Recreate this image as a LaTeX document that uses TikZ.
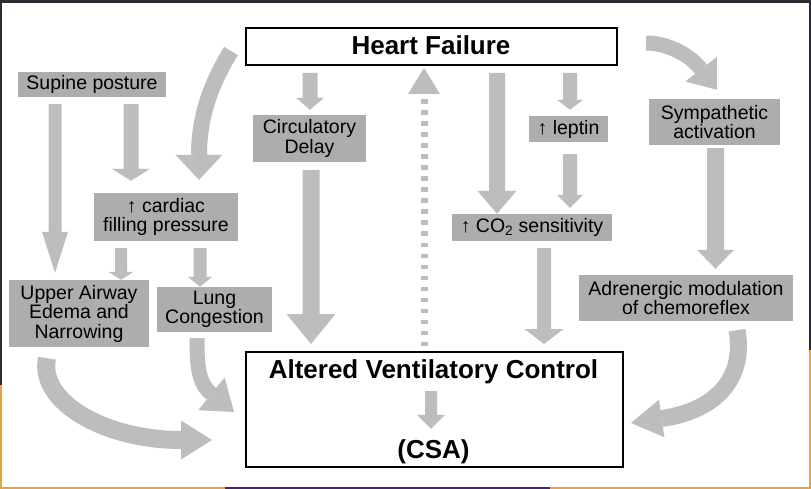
\documentclass[tikz,border=0pt]{standalone}
\usepackage{fontspec}
\setmainfont{Liberation Sans}
\usetikzlibrary{calc}
\definecolor{arrowgray}{HTML}{BDBDBD}
\definecolor{boxgray}{HTML}{ADADAD}
\definecolor{framedark}{HTML}{2B2B33}
\definecolor{frameorange}{HTML}{E9A244}
\definecolor{framepurple}{HTML}{4B2470}
\tikzset{
  gbox/.style={fill=boxgray, inner sep=0pt, align=center, font=\fontsize{19.5}{19.5}\selectfont},
  wbox/.style={draw=black, line width=2pt, fill=white, inner sep=0pt},
  btext/.style={font=\fontsize{26}{26}\selectfont\bfseries, inner sep=0pt},
}
% straight vertical block arrow: start, tip, shaft width, head width, head length
\newcommand{\varrow}[5]{%
  \fill[arrowgray] let \p1=#1, \p2=#2 in
    (\x1-#3/2,\y1) -- (\x1-#3/2,\y2+#5) -- (\x1-#4/2,\y2+#5) -- (\x1,\y2)
    -- (\x1+#4/2,\y2+#5) -- (\x1+#3/2,\y2+#5) -- (\x1+#3/2,\y1) -- cycle;}
% curved block arrow: tail, c1, c2, tip, shaft width, head half width, head length
\newcommand{\carrow}[7]{%
  \path ($(#4)!#7!(#3)$) coordinate (hb);
  \draw[arrowgray, line width=#5] (#1) .. controls (#2) and (#3) .. (hb);
  \fill[arrowgray] (#4) -- ($(hb)!#6!90:(#4)$) -- ($(hb)!#6!-90:(#4)$) -- cycle;}
\begin{document}
\begin{tikzpicture}[x=1pt,y=-1pt]
\useasboundingbox (0,0) rectangle (811,489);
% frame
\fill[framedark] (0,0) rectangle (811,489);
\fill[frameorange] (0,385) rectangle (2,489);
\fill[frameorange] (809,350) rectangle (811,489);
\fill[frameorange] (0,487) rectangle (811,489);
\fill[framepurple] (225,487) rectangle (550,489);
\fill[white] (2,3) rectangle (809,487);

% nodes
\node[wbox, minimum width=371pt, minimum height=37pt] (HF) at (431.5,46.5) {};
\node[btext, anchor=base] (hftext) at (431,55) {Heart Failure};
\node[wbox, minimum width=377pt, minimum height=115pt] (alt) at (434.5,409.5) {};
\node[btext, anchor=base] (avc) at (433.5,378) {Altered Ventilatory Control};
\node[btext, anchor=base] (csa) at (433.5,458) {(CSA)};

\node[gbox, minimum width=148pt, minimum height=25pt] (supine) at (92,84.5) {Supine posture};
\node[gbox, minimum width=113pt, minimum height=47pt] (circ) at (309.5,138.5) {Circulatory\\Delay};
\node[gbox, minimum width=79pt, minimum height=26pt] (leptin) at (568.5,129) {↑ leptin};
\node[gbox, minimum width=131pt, minimum height=46pt] (symp) at (714.5,122) {Sympathetic\\activation};
\node[gbox, minimum width=144pt, minimum height=48pt] (cardiac) at (166,217) {↑ cardiac\\filling pressure};
\node[gbox, minimum width=160pt, minimum height=27pt] (co2) at (532,227.5) {↑ CO\textsubscript{2} sensitivity};
\node[gbox, minimum width=140pt, minimum height=67pt] (upper) at (79,313.5) {Upper Airway\\Edema and\\Narrowing};
\node[gbox, minimum width=115pt, minimum height=45pt] (lung) at (214.5,309.5) {Lung\\Congestion};
\node[gbox, minimum width=214pt, minimum height=46pt] (adr) at (686,298) {Adrenergic modulation\\of chemoreflex};

% straight arrows
\varrow{($(HF.south)+(-121.5,7)$)}{($(circ.north)+(0,-5)$)}{15pt}{28pt}{12pt}
\varrow{($(circ.south)+(1.5,8)$)}{($(alt.north)+(0,-7)$)}{17pt}{49pt}{30pt}
\varrow{($(supine.south)+(-37,7)$)}{($(upper.north)+(0,-7)$)}{13pt}{26pt}{41pt}
\varrow{($(supine.south)+(39,7)$)}{($(cardiac.north)+(0,-12)$)}{15pt}{38pt}{12pt}
\varrow{($(cardiac.south)+(-45,7)$)}{(upper.north)}{12pt}{25pt}{8pt}
\varrow{($(cardiac.south)+(34,7)$)}{(lung.north)}{13pt}{24pt}{10pt}
\varrow{($(HF.south)+(65.5,7)$)}{(co2.north)}{16pt}{39pt}{23pt}
\varrow{($(HF.south)+(138.5,7)$)}{($(leptin.north)+(0,-6)$)}{14pt}{26pt}{10pt}
\varrow{($(leptin.south)+(1.5,12)$)}{($(co2.north)+(0,-6)$)}{14pt}{26pt}{13pt}
\varrow{($(symp.south)+(1,3)$)}{($(adr.north)+(0,-6)$)}{17pt}{37pt}{19pt}
\varrow{($(co2.south)+(12,7)$)}{($(alt.north)+(0,-7)$)}{14pt}{39pt}{15pt}
\varrow{($(avc.base)+(-2.5,13)$)}{($(csa.north)+(0,-10)$)}{12pt}{28pt}{14pt}

% dashed feedback arrow
\coordinate (ds) at ($(alt.north)+(-10.5,-5)$);
\coordinate (dt) at ($(HF.south)+(-7.5,2)$);
\draw[arrowgray, line width=7pt, dash pattern=on 4.5pt off 6.5pt]
  let \p1=(ds), \p2=(dt) in (\x1,\y1) -- (\x1,\y2-30pt);
\fill[arrowgray] let \p1=(ds), \p2=(dt) in
  (\x1,\y2) -- (\x1-16pt,\y2-26pt) -- (\x1+16pt,\y2-26pt) -- cycle;

% curved arrows
\coordinate (t1) at ($(HF.west)+(-14,4.5)$);
\coordinate (e1) at ($(cardiac.north)+(33,-13)$);
\coordinate (c1a) at (212,82);
\coordinate (c1b) at (199,115);
\carrow{t1}{c1a}{c1b}{e1}{16pt}{23.5pt}{25pt}

\coordinate (t2) at ($(HF.east)+(28,-3.5)$);
\coordinate (e2) at ($(symp.north)+(2.5,-9)$);
\coordinate (c2a) at (668,43);
\coordinate (c2b) at (690,55);
\carrow{t2}{c2a}{c2b}{e2}{15pt}{20pt}{26pt}

\coordinate (t3) at ($(upper.south)+(-32,11)$);
\coordinate (e3) at ($(alt.west)+(-33,30.5)$);
\coordinate (c3a) at (38,402);
\coordinate (c3b) at (105,440);
\carrow{t3}{c3a}{c3b}{e3}{18pt}{19.5pt}{31pt}

\coordinate (t4) at ($(lung.south)+(-17.5,6)$);
\coordinate (e4) at ($(alt.west)+(-11,2.5)$);
\coordinate (c4a) at (197,365);
\coordinate (c4b) at (198,383);
\carrow{t4}{c4a}{c4b}{e4}{15pt}{21pt}{29pt}

\coordinate (t5) at ($(adr.south)+(51,9)$);
\coordinate (e5) at ($(alt.east)+(7,13.5)$);
\coordinate (c5a) at (745,375);
\coordinate (c5b) at (720,410);
\carrow{t5}{c5a}{c5b}{e5}{17pt}{19pt}{31pt}
\end{tikzpicture}
\end{document}
